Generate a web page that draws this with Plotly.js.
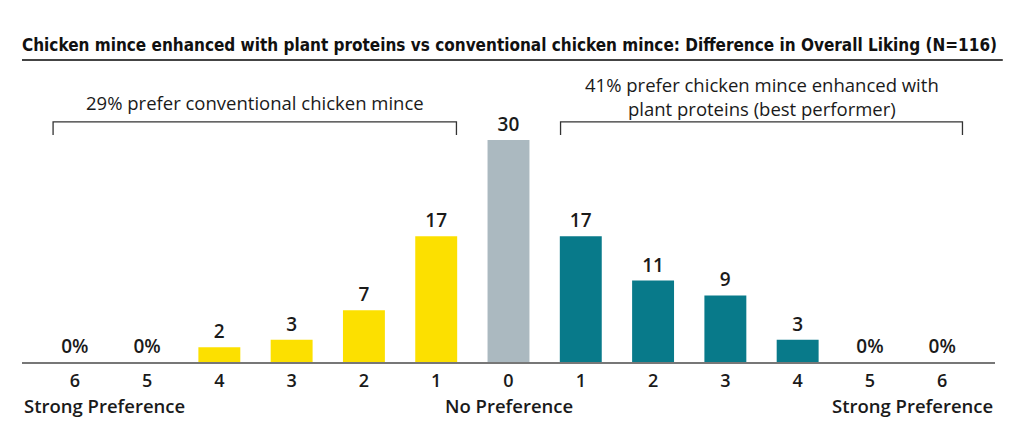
<!DOCTYPE html>
<html>
<head>
<meta charset="utf-8">
<script src="https://cdn.plot.ly/plotly-3.0.1.min.js"></script>
<style>html,body{margin:0;padding:0;background:#fff;}#chart{width:1024px;height:435px;}</style>
</head>
<body>
<div id="chart"></div>
<script>
const tickLabels = ['6','5','4','3','2','1','0','1','2','3','4','5','6'];
const values = [0, 0, 2, 3, 7, 17, 30, 17, 11, 9, 3, 0, 0];
const groups = ['conv','conv','conv','conv','conv','conv','none','plant','plant','plant','plant','plant','plant'];
const groupColors = {conv: '#FCE000', none: '#ABB9C0', plant: '#087A8A'};
const leftBracketText = '29% prefer conventional chicken mince';
const rightBracketText = '41% prefer chicken mince enhanced with<br>plant proteins (best performer)';
const titleText = 'Chicken mince enhanced with plant proteins vs conventional chicken mince: Difference in Overall Liking (N=116)';

const xs = values.map((v, i) => i);
const labels = values.map(v => v === 0 ? '0%' : String(v));
const colors = groups.map(g => groupColors[g]);
const FONT = 'Open Sans, sans-serif';

const trace = {
  type: 'bar', x: xs, y: values, width: 0.58,
  marker: {color: colors},
  text: labels, textposition: 'outside', cliponaxis: false, constraintext: 'none',
  textfont: {family: FONT, size: 19, color: '#1a1a1a', weight: 600},
  hoverinfo: 'skip'
};

const layout = {
  width: 1024, height: 435,
  margin: {l: 22, r: 29, t: 60, b: 73},
  paper_bgcolor: '#fff', plot_bgcolor: '#fff',
  showlegend: false,
  title: {text: '<b>' + titleText + '</b>', x: 22/1024, xanchor: 'left', xref: 'container',
          y: 1 - 45/435, yanchor: 'middle', yref: 'container',
          font: {family: 'DejaVu Sans Condensed, sans-serif', size: 17, color: '#111'}},
  xaxis: {range: [-0.73, 12.73], tickmode: 'array', tickvals: xs, ticktext: tickLabels,
          showgrid: false, zeroline: false, showline: true, linecolor: '#777', linewidth: 2,
          ticks: '', ticklabelstandoff: 1,
          tickfont: {family: FONT, size: 18, color: '#1a1a1a', weight: 600}, fixedrange: true},
  yaxis: {range: [0, 40.8], visible: false, fixedrange: true},
  shapes: [
    {type: 'line', xref: 'paper', yref: 'paper', x0: 0, x1: 1.008, y0: 1.0, y1: 1.0, line: {color: '#444', width: 2}},
    {type: 'path', xref: 'x', yref: 'paper', path: 'M -0.3 0.752 L -0.3 0.795 L 5.28 0.795 L 5.28 0.752', line: {color: '#333', width: 1.3}},
    {type: 'path', xref: 'x', yref: 'paper', path: 'M 6.72 0.752 L 6.72 0.795 L 12.28 0.795 L 12.28 0.752', line: {color: '#333', width: 1.3}}
  ],
  annotations: [
    {text: leftBracketText, xref: 'x', yref: 'paper', x: 2.49, y: 0.858, yanchor: 'middle', showarrow: false,
     font: {family: FONT, size: 18.5, color: '#1a1a1a'}},
    {text: rightBracketText, xref: 'x', yref: 'paper', x: 9.5, y: 0.88, yanchor: 'middle', showarrow: false,
     font: {family: FONT, size: 18.5, color: '#1a1a1a'}},
    {text: 'Strong Preference', xref: 'paper', yref: 'paper', x: 0, xanchor: 'left', y: -0.145, yanchor: 'middle', showarrow: false,
     font: {family: FONT, size: 18.5, color: '#1a1a1a', weight: 600}},
    {text: 'No Preference', xref: 'x', yref: 'paper', x: 6, y: -0.145, yanchor: 'middle', showarrow: false,
     font: {family: FONT, size: 18.5, color: '#1a1a1a', weight: 600}},
    {text: 'Strong Preference', xref: 'paper', yref: 'paper', x: 1, xanchor: 'right', y: -0.145, yanchor: 'middle', showarrow: false,
     font: {family: FONT, size: 18.5, color: '#1a1a1a', weight: 600}}
  ]
};

Plotly.newPlot('chart', [trace], layout, {displayModeBar: false, staticPlot: true});
</script>
</body>
</html>
